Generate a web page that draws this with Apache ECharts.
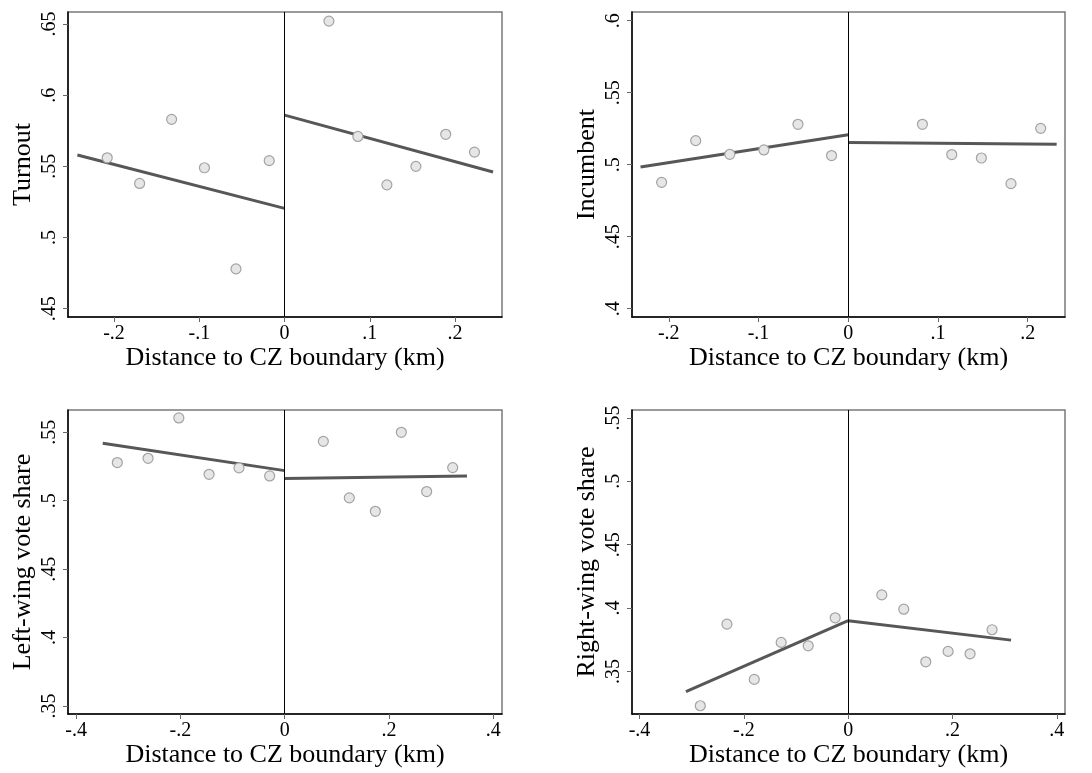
<!DOCTYPE html>
<html>
<head>
<meta charset="utf-8">
<script src="https://cdn.jsdelivr.net/npm/echarts@6/dist/echarts.min.js"></script>
<style>
html,body{margin:0;padding:0;background:#fff;}
#chart{width:1092px;height:773px;}
</style>
</head>
<body>
<div id="chart"></div>
<script>
// ---- Data ----
const xTitle = 'Distance to CZ boundary (km)';
const panelTitles = ['Turnout', 'Incumbent', 'Left-wing vote share', 'Right-wing vote share'];

const turnoutX = [-0.208, -0.170, -0.1325, -0.094, -0.057, -0.018, 0.052, 0.086, 0.120, 0.154, 0.189, 0.2227];
const turnoutY = [0.556, 0.538, 0.583, 0.549, 0.478, 0.554, 0.652, 0.571, 0.537, 0.550, 0.5725, 0.560];
const turnoutFitLeftX = [-0.243, 0];
const turnoutFitLeftY = [0.558, 0.5205];
const turnoutFitRightX = [0, 0.2445];
const turnoutFitRightY = [0.586, 0.546];

const incumbentX = [-0.208, -0.170, -0.132, -0.094, -0.056, -0.0186, 0.0827, 0.1154, 0.1484, 0.1814, 0.2145];
const incumbentY = [0.4877, 0.5167, 0.5072, 0.5102, 0.528, 0.5063, 0.528, 0.507, 0.5046, 0.4868, 0.5252];
const incumbentFitLeftX = [-0.2315, 0];
const incumbentFitLeftY = [0.4984, 0.5208];
const incumbentFitRightX = [0, 0.2323];
const incumbentFitRightY = [0.5153, 0.5141];

const leftWingX = [-0.321, -0.262, -0.203, -0.145, -0.0876, -0.0288, 0.0742, 0.124, 0.174, 0.2238, 0.2724, 0.3223];
const leftWingY = [0.5279, 0.531, 0.5605, 0.5193, 0.524, 0.5181, 0.5434, 0.5021, 0.4923, 0.55, 0.5067, 0.5242];
const leftWingFitLeftX = [-0.349, 0];
const leftWingFitLeftY = [0.542, 0.522];
const leftWingFitRightX = [0, 0.3497];
const leftWingFitRightY = [0.5162, 0.5181];

const rightWingX = [-0.2835, -0.2324, -0.180, -0.1284, -0.0766, -0.0249, 0.0645, 0.1066, 0.1488, 0.1916, 0.2337, 0.2759];
const rightWingY = [0.3229, 0.3873, 0.3437, 0.3729, 0.3702, 0.3923, 0.4104, 0.3991, 0.3576, 0.3658, 0.3639, 0.3829];
const rightWingFitLeftX = [-0.311, 0];
const rightWingFitLeftY = [0.334, 0.39];
const rightWingFitRightX = [0, 0.3123];
const rightWingFitRightY = [0.39, 0.3747];

const xTicksTop = [-0.2, -0.1, 0, 0.1, 0.2];
const xTicksBottom = [-0.4, -0.2, 0, 0.2, 0.4];
const yTicksTurnout = [0.45, 0.5, 0.55, 0.6, 0.65];
const yTicksIncumbent = [0.4, 0.45, 0.5, 0.55, 0.6];
const yTicksLeftWing = [0.35, 0.4, 0.45, 0.5, 0.55];
const yTicksRightWing = [0.35, 0.4, 0.45, 0.5, 0.55];

const xRanges = [[-0.254, 0.255], [-0.241, 0.2416], [-0.4156, 0.4169], [-0.4144, 0.4157]];
const yRanges = [[0.4442, 0.6584], [0.3942, 0.606], [0.3442, 0.5663], [0.3164, 0.5563]];

// ---- Build ----
const zip = (xs, ys) => xs.map((x, i) => [x, ys[i]]);
const panels = [
  {pts: zip(turnoutX, turnoutY), fl: zip(turnoutFitLeftX, turnoutFitLeftY), fr: zip(turnoutFitRightX, turnoutFitRightY), xt: xTicksTop, yt: yTicksTurnout},
  {pts: zip(incumbentX, incumbentY), fl: zip(incumbentFitLeftX, incumbentFitLeftY), fr: zip(incumbentFitRightX, incumbentFitRightY), xt: xTicksTop, yt: yTicksIncumbent},
  {pts: zip(leftWingX, leftWingY), fl: zip(leftWingFitLeftX, leftWingFitLeftY), fr: zip(leftWingFitRightX, leftWingFitRightY), xt: xTicksBottom, yt: yTicksLeftWing},
  {pts: zip(rightWingX, rightWingY), fl: zip(rightWingFitLeftX, rightWingFitLeftY), fr: zip(rightWingFitRightX, rightWingFitRightY), xt: xTicksBottom, yt: yTicksRightWing}
];

const gridPos = [
  {left: 68, top: 12, width: 434, height: 305},
  {left: 632, top: 12, width: 433, height: 305},
  {left: 68, top: 410, width: 434, height: 304},
  {left: 632, top: 410, width: 433, height: 304}
];

const FONT = 'Liberation Serif';
function fmt(v) {
  if (Math.abs(v) < 1e-9) return '0';
  let s = String(+v.toFixed(3));
  return s.replace(/^(-?)0\./, '$1.');
}

const grid = [], xAxis = [], yAxis = [], series = [];
panels.forEach((p, i) => {
  grid.push(Object.assign({show: true, borderColor: '#7a7a7a', borderWidth: 1.5, backgroundColor: '#fff', containLabel: false}, gridPos[i]));
  xAxis.push({
    type: 'value', gridIndex: i, min: xRanges[i][0], max: xRanges[i][1],
    splitLine: {show: false},
    axisLine: {show: true, onZero: false, lineStyle: {color: '#000', width: 1.5}},
    axisTick: {show: true, customValues: p.xt, length: 5, inside: false, lineStyle: {color: '#666', width: 1}},
    axisLabel: {customValues: p.xt, formatter: fmt, fontFamily: FONT, fontSize: 20, color: '#000', margin: 7},
    name: xTitle, nameLocation: 'middle', nameGap: 27,
    nameTextStyle: {fontFamily: FONT, fontSize: 26, color: '#000'}
  });
  yAxis.push({
    type: 'value', gridIndex: i, min: yRanges[i][0], max: yRanges[i][1],
    splitLine: {show: false},
    axisLine: {show: true, onZero: false, lineStyle: {color: '#000', width: 1.5}},
    axisTick: {show: true, customValues: p.yt, length: 5, inside: false, lineStyle: {color: '#666', width: 1}},
    axisLabel: {customValues: p.yt, formatter: fmt, fontFamily: FONT, fontSize: 20, color: '#000', margin: 8, rotate: 90},
    name: panelTitles[i], nameLocation: 'middle', nameGap: 32, nameRotate: 90,
    nameTextStyle: {fontFamily: FONT, fontSize: 26, color: '#000'}
  });
  const lineBase = {
    type: 'line', xAxisIndex: i, yAxisIndex: i, showSymbol: false, symbol: 'none',
    lineStyle: {color: '#575757', width: 3}, silent: true, z: 3, animation: false
  };
  series.push(Object.assign({}, lineBase, {
    data: p.fl,
    markLine: {
      silent: true, symbol: ['none', 'none'], label: {show: false},
      lineStyle: {color: '#000', width: 1, type: 'solid'},
      data: [{xAxis: 0}], animation: false
    }
  }));
  series.push(Object.assign({}, lineBase, {data: p.fr}));
  series.push({
    type: 'scatter', xAxisIndex: i, yAxisIndex: i, data: p.pts, symbol: 'circle', symbolSize: 10,
    itemStyle: {color: '#e6e6e6', borderColor: '#a3a3a3', borderWidth: 1.2, opacity: 1}, z: 4, animation: false
  });
});

const chart = echarts.init(document.getElementById('chart'), null, {renderer: 'canvas'});
chart.setOption({animation: false, backgroundColor: '#fff', grid, xAxis, yAxis, series});
</script>
</body>
</html>
